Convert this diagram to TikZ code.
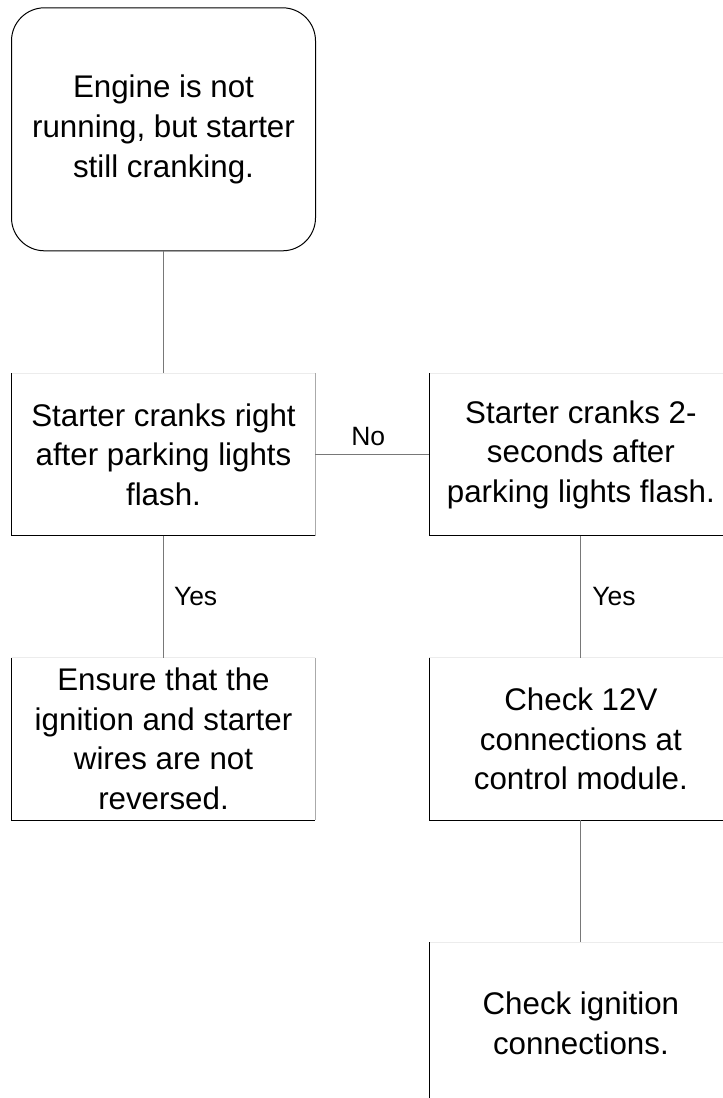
\documentclass[tikz,border=0pt]{standalone}
\usepackage{fontspec}
\setmainfont{Liberation Sans}
\usetikzlibrary{positioning}
\definecolor{linkgray}{RGB}{120,120,120}
\definecolor{edgegray}{RGB}{170,170,170}
\definecolor{topgray}{RGB}{236,236,236}
\tikzset{
    startbox/.style={draw, rounded corners=33pt, line width=1pt,
        minimum width=304pt, minimum height=243pt, inner sep=0pt,
        align=center, font=\fontsize{31.3}{40}\selectfont},
    stepbox/.style={minimum width=303pt, minimum height=162pt, inner sep=0pt,
        align=center, font=\fontsize{31.3}{39.5}\selectfont},
    link/.style={linkgray, line width=1pt},
    lbl/.style={black, inner sep=0pt, font=\fontsize{26.5}{30}\selectfont}
}
\newcommand{\boxedges}[1]{%
    \draw[topgray, line width=1pt] (#1.north west) -- (#1.north east);
    \draw[edgegray, line width=1pt] (#1.north east) -- (#1.south east);
    \draw[line width=1pt] (#1.north west) -- (#1.south west) -- (#1.south east);
}

\begin{document}
\begin{tikzpicture}[x=1pt, y=-1pt, node distance=122pt]
      \useasboundingbox (0,0) rectangle (723,1098);
      % nodes
      \node[stepbox] (right) at (163.5,454.5) {Starter cranks right\\after parking lights\\flash.};
      \node[startbox, above=of right] (start) {Engine is not\\running, but starter\\still cranking.};
      \node[stepbox, right=114pt of right] (twosec) {Starter cranks 2-\\seconds after\\parking lights flash.};
      \node[stepbox, below=of right] (wires) {Ensure that the\\ignition and starter\\wires are not\\reversed.};
      \node[stepbox, below=of twosec] (twelve) {Check 12V\\connections at\\control module.};
      \node[stepbox, below=of twelve] (ign) {Check ignition\\connections.};
      % box edges
      \boxedges{right}
      \boxedges{twosec}
      \boxedges{wires}
      \boxedges{twelve}
      \boxedges{ign}
      %edges
      \draw[link] (start) -- (right);
      \draw[link] (right) -- node[lbl, above=8pt, xshift=-4pt] (no) {No} (twosec);
      \draw[link] (right) -- node[lbl, right=10pt] (yes) {Yes} (wires);
      \draw[link] (twosec) -- node[lbl, right=11pt] (yes2) {Yes} (twelve);
      \draw[link] (twelve) -- (ign);
\end{tikzpicture}
\end{document}
